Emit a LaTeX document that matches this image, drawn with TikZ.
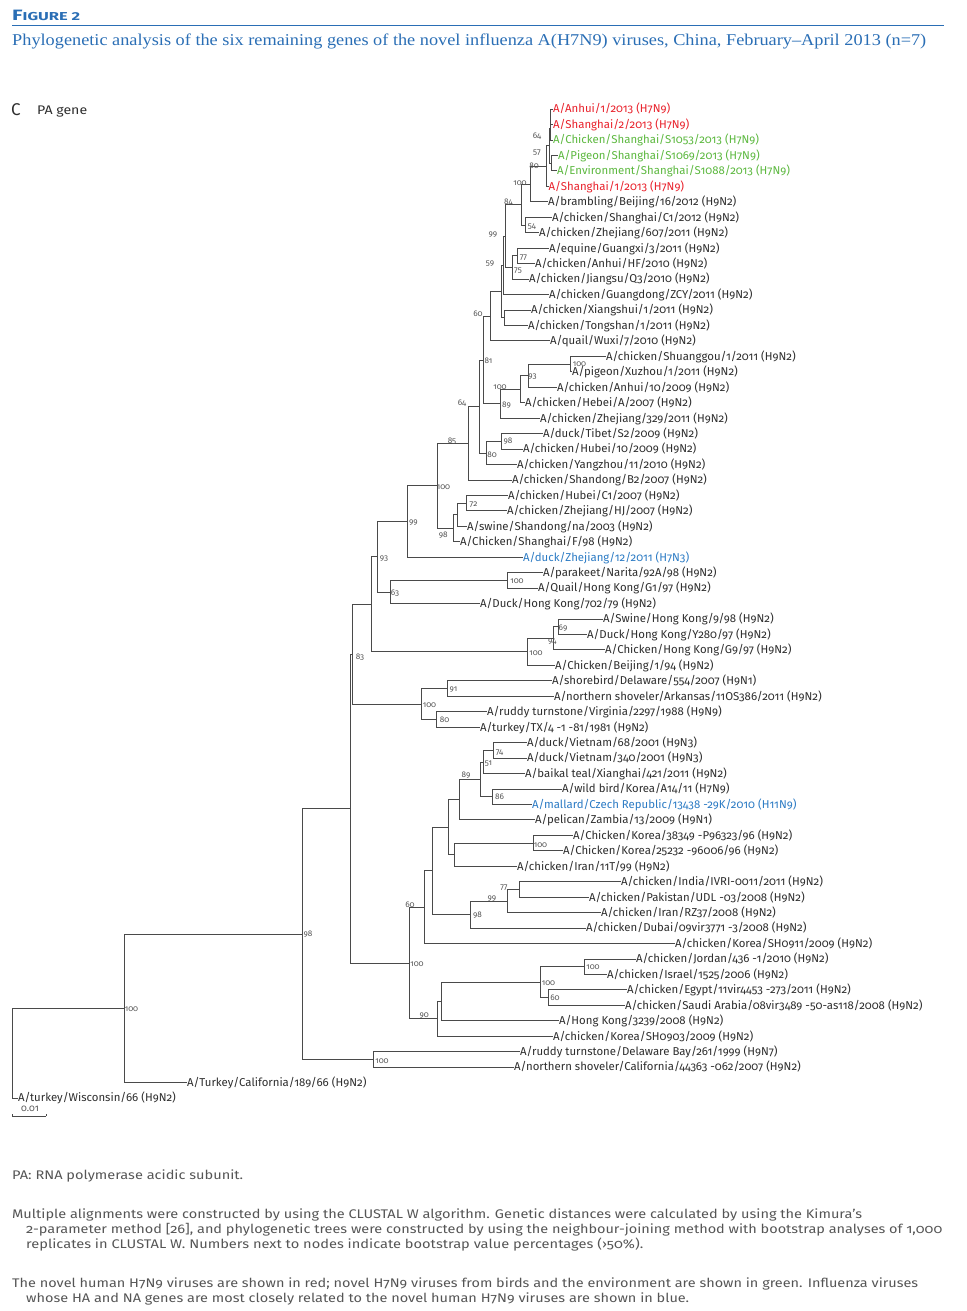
\documentclass[tikz,border=0pt]{standalone}
\usepackage{fontspec}
\usepackage{graphicx}
\setmainfont{Liberation Serif}
\newfontfamily\tf[Numbers=OldStyle]{Fira Sans}
\newfontfamily\tfl{Fira Sans}
\definecolor{lnc}{HTML}{4A4A4A}
\definecolor{leafc}{HTML}{2E2E2E}
\definecolor{bsg}{HTML}{555555}
\definecolor{hred}{HTML}{E8212B}
\definecolor{hgreen}{HTML}{5CB83F}
\definecolor{hblue}{HTML}{2C7BC4}
\definecolor{titleblue}{HTML}{2A6EB5}
\definecolor{notec}{HTML}{555555}
\begin{document}
\begin{tikzpicture}[x=1pt,y=-1pt,
  leaf/.style={anchor=west,inner sep=0pt,outer sep=0pt,text height=7.8pt,text depth=0pt,font=\tf\fontsize{11.4}{12}\selectfont,text=leafc},
  redleaf/.style={leaf,text=hred},
  greenleaf/.style={leaf,text=hgreen},
  blueleaf/.style={leaf,text=hblue},
  bs/.style={inner sep=0pt,font=\tf\fontsize{8.2}{9}\selectfont,text=bsg},
  br/.style={draw=lnc,line width=0.8pt},
  note/.style={anchor=base west,inner sep=0pt,text=notec,font=\tf\fontsize{12.5}{14}\selectfont}]
\useasboundingbox (0,0) rectangle (966,1311);
% header
\node[anchor=base west,inner sep=0pt,text=titleblue] (fig) at (12,21)
  {\resizebox{68pt}{\height}{\tfl\bfseries{\fontsize{15}{15}\selectfont F}{\fontsize{11.5}{12}\selectfont IGURE 2}}};
\draw[titleblue,line width=1.4pt] (12,25.5) -- (944,25.5);
\node[anchor=base west,inner sep=0pt,text=titleblue] (title) at (12,46)
  {\resizebox{914pt}{\height}{\fontsize{16.5}{18}\selectfont Phylogenetic analysis of the six remaining genes of the novel influenza A(H7N9) viruses, China, February–April 2013 (n=7)}};
\node[anchor=west,inner sep=0pt,text=leafc,font=\tfl\fontsize{17}{18}\selectfont] (panel) at (11,110) {C};
\node[anchor=base west,inner sep=0pt,text=leafc] (gene) at (37,115) {\resizebox{50pt}{\height}{\tfl\fontsize{12.5}{13}\selectfont PA gene}};
% leaves
\node[redleaf] (L1) at (553,109) {A/Anhui/1/2013 (H7N9)};
\node[redleaf] (L2) at (553,124.45) {A/Shanghai/2/2013 (H7N9)};
\node[greenleaf] (L3) at (553,139.9) {A/Chicken/Shanghai/S1053/2013 (H7N9)};
\node[greenleaf] (L4) at (558,155.4) {A/Pigeon/Shanghai/S1069/2013 (H7N9)};
\node[greenleaf] (L5) at (557,170.8) {A/Environment/Shanghai/S1088/2013 (H7N9)};
\node[redleaf] (L6) at (548.5,186.3) {A/Shanghai/1/2013 (H7N9)};
\node[leaf] (L7) at (548,201.7) {A/brambling/Beijing/16/2012 (H9N2)};
\node[leaf] (L8) at (552,217.2) {A/chicken/Shanghai/C1/2012 (H9N2)};
\node[leaf] (L9) at (539,232.6) {A/chicken/Zhejiang/607/2011 (H9N2)};
\node[leaf] (L10) at (549,248.1) {A/equine/Guangxi/3/2011 (H9N2)};
\node[leaf] (L11) at (535,263.5) {A/chicken/Anhui/HF/2010 (H9N2)};
\node[leaf] (L12) at (529,279.0) {A/chicken/Jiangsu/Q3/2010 (H9N2)};
\node[leaf] (L13) at (549,294.4) {A/chicken/Guangdong/ZCY/2011 (H9N2)};
\node[leaf] (L14) at (531,309.9) {A/chicken/Xiangshui/1/2011 (H9N2)};
\node[leaf] (L15) at (528,325.3) {A/chicken/Tongshan/1/2011 (H9N2)};
\node[leaf] (L16) at (550,340.8) {A/quail/Wuxi/7/2010 (H9N2)};
\node[leaf] (L17) at (606,356.2) {A/chicken/Shuanggou/1/2011 (H9N2)};
\node[leaf] (L18) at (572,371.7) {A/pigeon/Xuzhou/1/2011 (H9N2)};
\node[leaf] (L19) at (557,387.2) {A/chicken/Anhui/10/2009 (H9N2)};
\node[leaf] (L20) at (525,402.6) {A/chicken/Hebei/A/2007 (H9N2)};
\node[leaf] (L21) at (540,418.1) {A/chicken/Zhejiang/329/2011 (H9N2)};
\node[leaf] (L22) at (543,433.5) {A/duck/Tibet/S2/2009 (H9N2)};
\node[leaf] (L23) at (523,449.0) {A/chicken/Hubei/10/2009 (H9N2)};
\node[leaf] (L24) at (517,464.4) {A/chicken/Yangzhou/11/2010 (H9N2)};
\node[leaf] (L25) at (512,479.9) {A/chicken/Shandong/B2/2007 (H9N2)};
\node[leaf] (L26) at (508,495.3) {A/chicken/Hubei/C1/2007 (H9N2)};
\node[leaf] (L27) at (507,510.8) {A/chicken/Zhejiang/HJ/2007 (H9N2)};
\node[leaf] (L28) at (467,526.2) {A/swine/Shandong/na/2003 (H9N2)};
\node[leaf] (L29) at (460,541.7) {A/Chicken/Shanghai/F/98 (H9N2)};
\node[blueleaf] (L30) at (523,557.1) {A/duck/Zhejiang/12/2011 (H7N3)};
\node[leaf] (L31) at (543,572.6) {A/parakeet/Narita/92A/98 (H9N2)};
\node[leaf] (L32) at (538,588.0) {A/Quail/Hong Kong/G1/97 (H9N2)};
\node[leaf] (L33) at (480,603.5) {A/Duck/Hong Kong/702/79 (H9N2)};
\node[leaf] (L34) at (603,618.9) {A/Swine/Hong Kong/9/98 (H9N2)};
\node[leaf] (L35) at (587,634.4) {A/Duck/Hong Kong/Y280/97 (H9N2)};
\node[leaf] (L36) at (605,649.8) {A/Chicken/Hong Kong/G9/97 (H9N2)};
\node[leaf] (L37) at (555,665.3) {A/Chicken/Beijing/1/94 (H9N2)};
\node[leaf] (L38) at (552,680.7) {A/shorebird/Delaware/554/2007 (H9N1)};
\node[leaf] (L39) at (554,696.2) {A/northern shoveler/Arkansas/11OS386/2011 (H9N2)};
\node[leaf] (L40) at (487,711.7) {A/ruddy turnstone/Virginia/2297/1988 (H9N9)};
\node[leaf] (L41) at (480,727.1) {A/turkey/TX/4 -1 -81/1981 (H9N2)};
\node[leaf] (L42) at (527,742.6) {A/duck/Vietnam/68/2001 (H9N3)};
\node[leaf] (L43) at (527,758.0) {A/duck/Vietnam/340/2001 (H9N3)};
\node[leaf] (L44) at (525,773.5) {A/baikal teal/Xianghai/421/2011 (H9N2)};
\node[leaf] (L45) at (562,788.9) {A/wild bird/Korea/A14/11 (H7N9)};
\node[blueleaf] (L46) at (532,804.4) {A/mallard/Czech Republic/13438 -29K/2010 (H11N9)};
\node[leaf] (L47) at (535,819.8) {A/pelican/Zambia/13/2009 (H9N1)};
\node[leaf] (L48) at (573,835.3) {A/Chicken/Korea/38349 -P96323/96 (H9N2)};
\node[leaf] (L49) at (563,850.7) {A/Chicken/Korea/25232 -96006/96 (H9N2)};
\node[leaf] (L50) at (517,866.2) {A/chicken/Iran/11T/99 (H9N2)};
\node[leaf] (L51) at (621,881.6) {A/chicken/India/IVRI-0011/2011 (H9N2)};
\node[leaf] (L52) at (589,897.1) {A/chicken/Pakistan/UDL -03/2008 (H9N2)};
\node[leaf] (L53) at (601,912.5) {A/chicken/Iran/RZ37/2008 (H9N2)};
\node[leaf] (L54) at (586,928.0) {A/chicken/Dubai/09vir3771 -3/2008 (H9N2)};
\node[leaf] (L55) at (675,943.4) {A/chicken/Korea/SH0911/2009 (H9N2)};
\node[leaf] (L56) at (636,958.9) {A/chicken/Jordan/436 -1/2010 (H9N2)};
\node[leaf] (L57) at (607,974.3) {A/chicken/Israel/1525/2006 (H9N2)};
\node[leaf] (L58) at (627,989.8) {A/chicken/Egypt/11vir4453 -273/2011 (H9N2)};
\node[leaf] (L59) at (625,1005.2) {A/chicken/Saudi Arabia/08vir3489 -50-as118/2008 (H9N2)};
\node[leaf] (L60) at (559,1020.7) {A/Hong Kong/3239/2008 (H9N2)};
\node[leaf] (L61) at (553,1036.1) {A/chicken/Korea/SH0903/2009 (H9N2)};
\node[leaf] (L62) at (520,1051.6) {A/ruddy turnstone/Delaware Bay/261/1999 (H9N7)};
\node[leaf] (L63) at (514,1067.0) {A/northern shoveler/California/44363 -062/2007 (H9N2)};
\node[leaf] (L64) at (187,1082.5) {A/Turkey/California/189/66 (H9N2)};
\node[leaf] (L65) at (18,1098) {A/turkey/Wisconsin/66 (H9N2)};
% internal nodes
\coordinate (nas) at (550.5,116.7);
\coordinate (n64) at (550,128.3);
\coordinate (npe) at (551,163.1);
\coordinate (n57) at (549.5,145.7);
\coordinate (n80) at (546,166);
\coordinate (n100a) at (530.7,183.9);
\coordinate (n54) at (525.7,224.9);
\coordinate (n84) at (521.7,204.4);
\coordinate (n77) at (517.3,255.8);
\coordinate (n75) at (512.3,267.4);
\coordinate (n99a) at (505.7,235.9);
\coordinate (n59) at (503.3,265.2);
\coordinate (nxt) at (504.3,317.6);
\coordinate (nq) at (501,291.4);
\coordinate (n60a) at (490.7,316.1);
\coordinate (n100b) at (570.7,364);
\coordinate (n93a) at (528.3,375.6);
\coordinate (n100c) at (520.7,389.1);
\coordinate (n89a) at (500.7,403.6);
\coordinate (n81) at (483.3,359.9);
\coordinate (n98a) at (501,441.3);
\coordinate (n80a) at (486.7,452.9);
\coordinate (n64a) at (479,406.4);
\coordinate (n85) at (468.3,443.2);
\coordinate (n72) at (466.7,503.1);
\coordinate (nsw) at (457.3,514.7);
\coordinate (n98b) at (453.3,528.2);
\coordinate (n100d) at (437.3,485.7);
\coordinate (n99b) at (407.7,521.4);
\coordinate (n100e) at (507.3,580.3);
\coordinate (n63) at (390,591.9);
\coordinate (n93b) at (377.3,556.7);
\coordinate (n69) at (558.3,626.7);
\coordinate (n94) at (553.3,638.3);
\coordinate (n100f) at (527.7,651.8);
\coordinate (nu) at (371.7,604.3);
\coordinate (n91) at (447.3,688.5);
\coordinate (n80b) at (436.7,719.4);
\coordinate (n100g) at (421.7,704);
\coordinate (n83) at (352.5,654.2);
\coordinate (n74) at (493.3,750.3);
\coordinate (n51) at (483.3,761.9);
\coordinate (n86) at (492.7,796.7);
\coordinate (n89b) at (480.7,779.3);
\coordinate (npel) at (459.3,799.6);
\coordinate (n100h) at (533.3,843);
\coordinate (nir) at (454.3,854.6);
\coordinate (ny) at (448,827.1);
\coordinate (n77c) at (519.3,889.4);
\coordinate (n99c) at (507.3,901);
\coordinate (n98c) at (470.3,914.5);
\coordinate (nx) at (432.3,870.8);
\coordinate (n60c) at (424.3,907.1);
\coordinate (n100i) at (584.5,966.6);
\coordinate (n60d) at (548,997.5);
\coordinate (n100j) at (540.7,982.1);
\coordinate (nz) at (441.5,1001.4);
\coordinate (n90) at (437.8,1018.8);
\coordinate (n100k) at (409.3,963);
\coordinate (nw) at (350.5,808.6);
\coordinate (n100l) at (373.3,1059.3);
\coordinate (n98d) at (302.7,934);
\coordinate (n100m) at (124,1008.3);
\coordinate (root) at (12,1053);
% branches
\foreach \p/\c in {nas/L1, nas/L2, n64/nas, n64/L3, npe/L4, npe/L5, n57/n64, n57/npe,
  n80/n57, n80/L6, n100a/n80, n100a/L7, n54/L8, n54/L9, n84/n100a, n84/n54,
  n77/L10, n77/L11, n75/n77, n75/L12, n99a/n84, n99a/n75, n59/n99a, n59/L13,
  nxt/L14, nxt/L15, nq/n59, nq/nxt, n60a/nq, n60a/L16, n100b/L17, n100b/L18,
  n93a/n100b, n93a/L19, n100c/n93a, n100c/L20, n89a/n100c, n89a/L21, n81/n60a, n81/n89a,
  n98a/L22, n98a/L23, n80a/n98a, n80a/L24, n64a/n81, n64a/n80a, n85/n64a, n85/L25,
  n72/L26, n72/L27, nsw/n72, nsw/L28, n98b/nsw, n98b/L29, n100d/n85, n100d/n98b,
  n99b/n100d, n99b/L30, n100e/L31, n100e/L32, n63/n100e, n63/L33, n93b/n99b, n93b/n63,
  n69/L34, n69/L35, n94/n69, n94/L36, n100f/n94, n100f/L37, nu/n93b, nu/n100f,
  n91/L38, n91/L39, n80b/L40, n80b/L41, n100g/n91, n100g/n80b, n83/nu, n83/n100g,
  n74/L42, n74/L43, n51/n74, n51/L44, n86/L45, n86/L46, n89b/n51, n89b/n86,
  npel/n89b, npel/L47, n100h/L48, n100h/L49, nir/n100h, nir/L50, ny/npel, ny/nir,
  n77c/L51, n77c/L52, n99c/n77c, n99c/L53, n98c/n99c, n98c/L54, nx/ny, nx/n98c,
  n60c/nx, n60c/L55, n100i/L56, n100i/L57, n60d/L58, n60d/L59, n100j/n100i, n100j/n60d,
  nz/n100j, nz/L60, n90/nz, n90/L61, n100k/n60c, n100k/n90, nw/n83, nw/n100k,
  n100l/L62, n100l/L63, n98d/nw, n98d/n100l, n100m/n98d, n100m/L64, root/n100m, root/L65}
  \draw[br] (\p) |- (\c);
% bootstrap values
\foreach \x/\y/\t [count=\i] in {537/136/64, 537/153/57, 534/166/80, 520/183.5/100, 508.5/202.5/84,
  532/227/54, 493/235/99, 523.5/257.5/77, 490/264/59, 518/271/75, 478/314/60, 488.5/361/81,
  579.5/364/100, 532.5/377/93, 500/387/100, 506.5/405/89, 462/403/64, 508/441/98, 492/455/80,
  452/441/85, 443.5/487/100, 473.5/505/72, 443.3/535/98, 413.5/523/99, 384/559/93,
  517/581/100, 395/593.3/63, 563/628.3/69, 552.3/641.7/94, 536/653.3/100, 360/656.7/83,
  453.5/690/91, 429.5/705/100, 444.5/720/80, 499.5/752.3/74, 488.5/763.3/51, 466/775/89,
  499.5/796.7/86, 540.5/845/100, 504/888/77, 492/899/99, 477.5/915/98, 410/905/60,
  417/964/100, 593/967/100, 548.5/983/100, 555/998/60, 424.3/1016/90, 382/1060.7/100,
  308/934/98, 131.5/1009/100}
  \node[bs] (b\i) at (\x,\y) {\t};
% scale bar
\coordinate (sb1) at (12,1116);
\coordinate (sb2) at (46,1116);
\draw[br,line width=0.7pt] (sb1) -- (sb2);
\draw[br,line width=0.7pt] (sb1) -- ++(0,-2.5);
\draw[br,line width=0.7pt] (sb2) -- ++(0,-2.5);
\node[bs,font=\tf\fontsize{9.5}{10}\selectfont] (sbl) at (30,1109) {0.01};
% notes
\node[note] (n1) at (12,1179) {\resizebox{231pt}{\height}{PA: RNA polymerase acidic subunit.}};
\node[note] (n2) at (12,1218) {\resizebox{850pt}{\height}{Multiple alignments were constructed by using the CLUSTAL W algorithm. Genetic distances were calculated by using the Kimura’s}};
\node[note] (n3) at (26,1233) {\resizebox{916pt}{\height}{2-parameter method [26], and phylogenetic trees were constructed by using the neighbour-joining method with bootstrap analyses of 1,000}};
\node[note] (n4) at (26,1248) {\resizebox{617pt}{\height}{replicates in CLUSTAL W. Numbers next to nodes indicate bootstrap value percentages (›50\%).}};
\node[note] (n5) at (12,1287) {\resizebox{906pt}{\height}{The novel human H7N9 viruses are shown in red; novel H7N9 viruses from birds and the environment are shown in green. Influenza viruses}};
\node[note] (n6) at (26,1302) {\resizebox{663pt}{\height}{whose HA and NA genes are most closely related to the novel human H7N9 viruses are shown in blue.}};
\end{tikzpicture}
\end{document}
